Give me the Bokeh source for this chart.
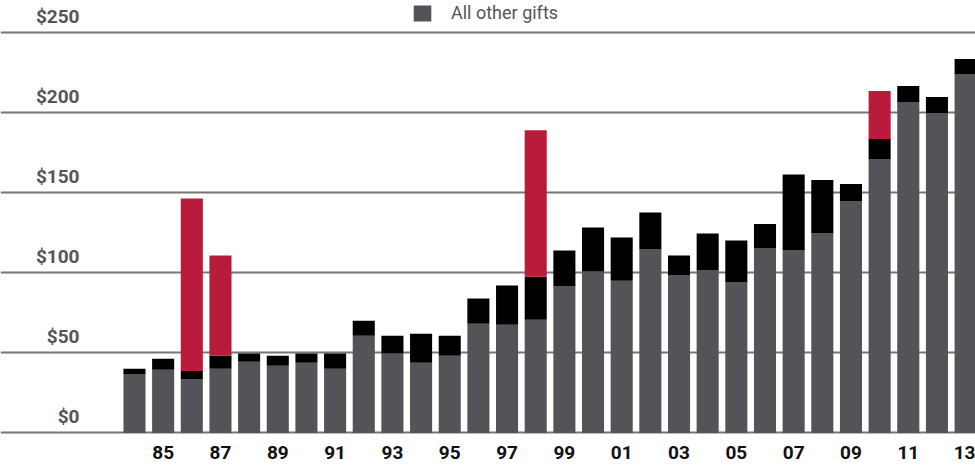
from bokeh.plotting import figure
from bokeh.models import (ColumnDataSource, FixedTicker, Range1d, LabelSet,
                          Legend, LegendItem)
from bokeh.core.properties import value
from bokeh.embed import file_html
from bokeh.resources import INLINE

# ---- data -------------------------------------------------------------
years = list(range(1984, 2014))
all_other_gifts = [36.5, 39.5, 33.8, 40.1, 44.5, 42.0, 43.9, 40.1, 60.8, 49.7,
                   43.9, 48.2, 68.3, 67.7, 70.8, 91.5, 100.9, 95.2, 114.7, 98.4,
                   101.5, 94.0, 115.6, 114.3, 125.0, 145.0, 171.3, 206.9, 200.0, 224.4]
large_gifts = [3.6, 6.9, 5.0, 8.1, 5.2, 6.2, 5.8, 9.6, 9.4, 11.1,
               18.1, 12.6, 15.7, 24.4, 26.9, 22.5, 27.5, 27.0, 23.1, 12.5,
               23.2, 26.3, 15.0, 47.3, 33.1, 10.6, 12.5, 10.0, 10.0, 9.4]
extraordinary_gifts = [0, 0, 107.8, 62.7, 0, 0, 0, 0, 0, 0,
                       0, 0, 0, 0, 91.5, 0, 0, 0, 0, 0,
                       0, 0, 0, 0, 0, 0, 30.0, 0, 0, 0]
series = ["all_other", "large", "extraordinary"]
series_colors = ["#545458", "#000000", "#b91b3b"]
legend_label = "All other gifts"

y_ticks = [0, 50, 100, 150, 200, 250]
y_tick_labels = ["$0", "$50", "$100", "$150", "$200", "$250"]
x_ticks = list(range(1985, 2014, 2))
x_tick_labels = ["85", "87", "89", "91", "93", "95", "97", "99",
                 "01", "03", "05", "07", "09", "11", "13"]

source = ColumnDataSource(dict(year=years, all_other=all_other_gifts,
                               large=large_gifts,
                               extraordinary=extraordinary_gifts))

# ---- figure -----------------------------------------------------------
FRAME_H = 436
p = figure(width=975, height=466,
           x_range=Range1d(1979.325, 2013.345),
           y_range=Range1d(-2.2, 270.3),
           output_backend="svg", toolbar_location=None,
           y_axis_location=None,
           min_border_left=0, min_border_right=0,
           min_border_top=0, min_border_bottom=466 - FRAME_H)
p.outline_line_color = None
p.background_fill_color = "white"

p.xgrid.visible = False
p.ygrid.ticker = FixedTicker(ticks=y_ticks)
p.ygrid.grid_line_color = "#767676"
p.ygrid.grid_line_width = 2

renderers = p.vbar_stack(series, x="year", width=0.77, source=source,
                         fill_color=series_colors, line_color=None)

# x axis
ax = p.xaxis[0]
ax.ticker = FixedTicker(ticks=x_ticks)
ax.major_label_overrides = dict(zip(x_ticks, x_tick_labels))
ax.axis_line_color = None
ax.major_tick_line_color = None
ax.minor_tick_line_color = None
ax.major_tick_out = 0
ax.major_tick_in = 0
ax.major_label_standoff = 9
ax.major_label_text_font = "Roboto"
ax.major_label_text_font_style = "bold"
ax.major_label_text_font_size = "19px"
ax.major_label_text_color = "#111111"

# y tick labels, sitting above the grid lines
ysrc = ColumnDataSource(dict(y=y_ticks, text=y_tick_labels,
                             x=[79] * len(y_ticks)))
ylabels = LabelSet(x="x", y="y", text="text", source=ysrc,
                   x_units="screen", y_units="data",
                   text_align="right", text_baseline="alphabetic",
                   y_offset=10, text_font=value("Roboto"),
                   text_font_style="bold",
                   text_font_size="19px", text_color="#555555")
p.add_layout(ylabels)

legend = Legend(items=[LegendItem(label=legend_label, renderers=[renderers[0]])],
                location=(411, FRAME_H - 3 - 20), orientation="horizontal",
                border_line_color=None, background_fill_alpha=0,
                padding=0, margin=0, glyph_width=22, glyph_height=20,
                label_standoff=18, label_height=20,
                label_text_font="Roboto", label_text_font_size="18px",
                label_text_color="#555555")
p.add_layout(legend)

open("out.html", "w").write(file_html(p, INLINE))
